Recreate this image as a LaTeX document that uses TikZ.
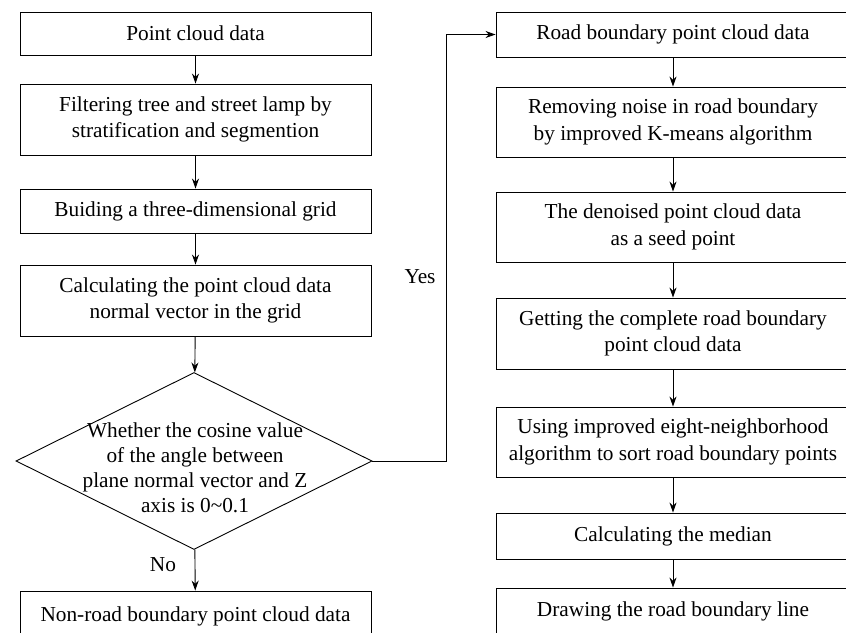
\documentclass[tikz,border=0pt]{standalone}
\usepackage{fontspec}
\setmainfont{Liberation Serif}
\usepackage{tikz}
\usetikzlibrary{shapes.geometric, arrows.meta}
\tikzstyle{process} = [rectangle, minimum width=351pt, minimum height=44pt, inner sep=0pt, align=center, draw=black, line width=0.9pt]
\tikzstyle{boundary} = [process, minimum width=354pt]
\tikzstyle{decision} = [diamond, minimum width=356pt, minimum height=177pt, inner sep=0pt, draw=black, line width=0.9pt]
\tikzstyle{arrow} = [line width=0.9pt, ->, >={Stealth[length=10pt, width=7pt]}]

\begin{document}
\begin{tikzpicture}[x=1pt, y=-1pt, font=\fontsize{21.3pt}{26.7pt}\selectfont]

        \clip (0,0) rectangle (846,632);

        \node (pcd) [process, minimum height=43pt] at (195.5,33.5) {Point cloud data};
        \node (filter) [process, minimum height=71pt] at (195.5,119.5) {Filtering tree and street lamp by\\stratification and segmention};
        \node (grid) [process] at (195.5,211) {Buiding a three-dimensional grid};
        \node (normal) [process, minimum height=71pt] at (195.5,300.5) {Calculating the point cloud data\\normal vector in the grid};
        \node (check) [decision] at (194,461) {};
        \node (checktext) [align=center, font=\fontsize{21.3pt}{25pt}\selectfont] at (195,468) {Whether the cosine value\\of the angle between\\plane normal vector and Z\\axis is 0\textasciitilde0.1};
        \node (nonroad) [process, minimum height=50pt] at (195.5,616) {Non-road boundary point cloud data};

        \node (roadpts) [boundary, minimum height=45pt] at (673,34.5) {Road boundary point cloud data};
        \node (denoise) [boundary, minimum height=70pt] at (673,122) {Removing noise in road boundary\\by improved K-means algorithm};
        \node (seed) [boundary, minimum height=70pt] at (673,227) {The denoised point cloud data\\as a seed point};
        \node (complete) [boundary, minimum height=71pt] at (673,333.5) {Getting the complete road boundary\\point cloud data};
        \node (sorting) [boundary, minimum height=70pt] at (673,442) {Using improved eight-neighborhood\\algorithm to sort road boundary points};
        \node (median) [boundary, minimum height=46pt] at (673,536) {Calculating the median};
        \node (drawline) [boundary, minimum height=46pt] at (673,611) {Drawing the road boundary line};

        \node (yes) at (420,277) {Yes};
        \node (no) at (163,565) {No};

        \draw [arrow] (pcd) -- (filter);
        \draw [arrow] (filter) -- (grid);
        \draw [arrow] (grid) -- (normal);
        \draw [arrow] (normal) -- (check);
        \draw [arrow] (check) -- (nonroad);
        \draw [arrow] (check.east) -- ++(74,0) |- (roadpts.west);

        \draw [arrow] (roadpts) -- (denoise);
        \draw [arrow] (denoise) -- (seed);
        \draw [arrow] (seed) -- (complete);
        \draw [arrow] (complete) -- (sorting);
        \draw [arrow] (sorting) -- (median);
        \draw [arrow] (median) -- (drawline);

\end{tikzpicture}
\end{document}
